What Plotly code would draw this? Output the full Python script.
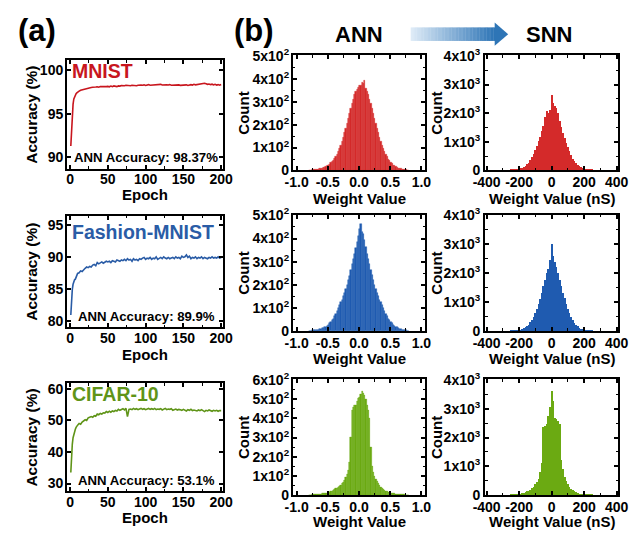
import plotly.graph_objects as go

W, H = 635, 541
FONT = "Liberation Sans, Arial, sans-serif"

# ---------------- data ----------------
epochs = list(range(1, 11)) + list(range(12, 201, 2))

acc_mnist = [
    91.3, 93.6, 95.2, 96.1, 96.7, 96.95, 97.15, 97.3, 97.4, 97.5,
    97.6, 97.7, 97.75, 97.85, 97.9, 97.95, 97.92, 98.0, 98.02, 98.05,
    98.03, 98.08, 98.1, 98.05, 98.12, 98.1, 98.15, 98.08, 98.12, 98.15,
    98.1, 98.18, 98.12, 98.2, 98.15, 98.12, 98.2, 98.18, 98.25, 98.2,
    98.22, 98.28, 98.25, 98.3, 98.22, 98.28, 98.25, 98.3, 98.22, 98.28,
    98.25, 98.3, 98.28, 98.32, 98.25, 98.3, 98.35, 98.28, 98.3, 98.32,
    98.28, 98.35, 98.3, 98.32, 98.38, 98.3, 98.33, 98.28, 98.32, 98.3,
    98.35, 98.28, 98.3, 98.25, 98.3, 98.28, 98.32, 98.27, 98.3, 98.25,
    98.28, 98.32, 98.25, 98.3, 98.35, 98.3, 98.38, 98.32, 98.35, 98.4,
    98.38, 98.45, 98.42, 98.5, 98.45, 98.38, 98.42, 98.35, 98.4, 98.32,
    98.38, 98.3, 98.35, 98.28, 98.37,
]
acc_fmnist = [
    81.0, 83.8, 85.0, 85.8, 86.3, 86.5, 86.6, 87.0, 87.2, 87.5,
    87.6, 87.9, 87.8, 88.1, 88.3, 88.5, 88.4, 88.6, 88.5, 88.8,
    88.9, 88.7, 89.2, 89.0, 89.1, 89.3, 89.1, 89.2, 89.4, 89.3,
    89.4, 89.2, 89.5, 89.4, 89.3, 89.6, 89.5, 89.4, 89.6, 89.5,
    89.7, 89.5, 89.8, 89.6, 89.7, 89.4, 89.8, 89.6, 89.7, 89.5,
    89.8, 89.7, 89.9, 90.0, 89.7, 89.9, 89.8, 90.0, 89.7, 89.9,
    89.8, 90.1, 89.7, 89.9, 90.0, 89.8, 90.1, 89.9, 89.8, 90.0,
    89.8, 89.9, 90.0, 89.8, 90.1, 89.9, 90.0, 89.8, 90.2, 90.0,
    90.1, 90.4, 90.0, 90.2, 89.8, 90.0, 89.9, 90.1, 89.8, 90.0,
    89.9, 90.1, 89.8, 90.0, 89.9, 89.8, 90.0, 89.9, 90.1, 89.9,
    90.0, 89.9, 90.1, 89.9, 90.0,
]
acc_cifar = [
    33.5, 39.0, 42.5, 44.5, 45.8, 46.5, 47.2, 47.8, 48.3, 48.5,
    49.0, 48.8, 49.5, 49.8, 50.2, 50.0, 50.8, 51.0, 51.2, 51.0,
    51.5, 51.3, 52.0, 51.8, 52.2, 52.0, 52.4, 52.3, 52.8, 52.5,
    52.9, 52.6, 53.0, 52.8, 53.2, 53.0, 53.5, 53.2, 53.4, 53.7,
    53.3, 53.8, 51.2, 53.5, 53.6, 53.4, 53.8, 53.5, 53.7, 53.4,
    53.6, 53.8, 53.5, 53.7, 53.4, 53.6, 53.8, 53.5, 53.7, 53.5,
    53.8, 53.4, 53.6, 53.5, 53.7, 53.3, 53.6, 53.8, 53.4, 53.6,
    53.5, 53.7, 53.2, 53.5, 53.6, 53.3, 53.5, 53.4, 53.2, 53.5,
    53.3, 53.0, 53.4, 53.2, 53.5, 53.1, 53.3, 53.2, 53.0, 53.3,
    53.1, 53.4, 53.0, 52.8, 53.2, 53.0, 53.3, 53.1, 52.9, 53.2,
    53.0, 53.2, 52.9, 53.1, 53.1,
]

ann_bins = [round(-0.79 + 0.02 * i, 2) for i in range(80)]
ann_mnist = [
    2, 2, 3, 3, 4, 4, 5, 6, 7, 8,
    10, 12, 14, 17, 20, 24, 28, 33, 38, 45,
    52, 60, 70, 82, 95, 110, 128, 145, 165, 185,
    207, 228, 250, 272, 294, 312, 330, 345, 355, 362,
    370, 372, 385, 378, 392, 360, 345, 330, 310, 292,
    270, 248, 228, 205, 185, 165, 145, 128, 110, 95,
    82, 70, 60, 50, 42, 35, 29, 24, 20, 16,
    13, 10, 8, 7, 5, 4, 3, 3, 2, 2,
]
ann_fmnist = [
    2, 2, 3, 3, 4, 4, 5, 6, 7, 9,
    11, 13, 16, 19, 22, 27, 33, 39, 46, 54,
    64, 75, 87, 100, 112, 124, 135, 150, 165, 180,
    200, 222, 240, 265, 290, 310, 335, 360, 385, 410,
    440, 465, 430, 420, 395, 365, 335, 312, 290, 265,
    242, 222, 200, 182, 165, 150, 135, 124, 112, 100,
    87, 75, 64, 54, 46, 39, 33, 27, 22, 19,
    16, 13, 10, 8, 6, 5, 4, 3, 2, 2,
]
ann_cifar = [
    2, 2, 3, 3, 4, 4, 5, 6, 7, 7,
    8, 9, 10, 12, 13, 15, 17, 20, 23, 26,
    30, 34, 38, 43, 48, 54, 61, 70, 80, 92,
    108, 130, 170, 300, 440, 455, 465, 470, 490, 505,
    510, 525, 540, 530, 520, 500, 470, 440, 400, 250,
    150, 120, 100, 85, 72, 61, 52, 44, 38, 32,
    27, 23, 20, 17, 15, 13, 11, 10, 8, 7,
    6, 5, 5, 4, 4, 3, 3, 2, 2, 2,
]

snn_bins = list(range(-250, 251, 10))
snn_mnist = [
    6, 9, 14, 20, 28, 40, 55, 75, 105, 145,
    195, 260, 340, 440, 560, 700, 850, 1000, 1150, 1350,
    1550, 1850, 2050, 2000, 2100, 2620, 2350, 2250, 2150, 2000,
    1700, 1500, 1300, 1120, 950, 800, 650, 520, 400, 310,
    230, 170, 125, 90, 65, 45, 32, 22, 15, 10,
    7,
]
snn_fmnist = [
    5, 8, 12, 18, 26, 36, 50, 68, 92, 125,
    170, 225, 295, 380, 480, 610, 760, 930, 1120, 1330,
    1550, 1780, 2000, 2150, 2450, 3000, 2600, 2400, 2200, 2000,
    1780, 1550, 1330, 1130, 940, 770, 620, 490, 380, 290,
    215, 160, 118, 85, 62, 45, 32, 22, 15, 10,
    7,
]
snn_cifar = [
    3, 5, 8, 12, 18, 30, 45, 60, 80, 100,
    125, 155, 190, 235, 290, 380, 450, 560, 800, 1100,
    2350, 2400, 2450, 2750, 3050, 3600, 3250, 2650, 2620, 2550,
    2450, 1200, 900, 620, 470, 370, 290, 220, 165, 125,
    95, 70, 52, 38, 28, 20, 14, 10, 7, 5,
    3,
]

datasets = ["MNIST", "Fashion-MNIST", "CIFAR-10"]
ann_acc_text = ["ANN Accuracy: 98.37%", "ANN Accuracy: 89.9%", "ANN Accuracy: 53.1%"]
acc_ticks = [[90, 95, 100], [80, 85, 90, 95], [30, 40, 50, 60]]
ann_yticks = [[0, 100, 200, 300, 400, 500], [0, 100, 200, 300, 400, 500],
              [0, 100, 200, 300, 400, 500, 600]]
snn_yticks = [0, 1000, 2000, 3000, 4000]
ann_xticks = [-1.0, -0.5, 0.0, 0.5, 1.0]
ann_xtext = ["-1.0", "-0.5", "0.0", "0.5", "1.0"]
snn_xticks = [-400, -200, 0, 200, 400]
snn_xtext = ["-400", "-200", "0", "200", "400"]
epoch_ticks = [0, 50, 100, 150, 200]

line_colors = ["#C8161E", "#2A5CA6", "#5F9418"]
hist_colors = ["#D42A2A", "#1F5BB0", "#6BAA12"]

# ---------------- layout geometry (pixels) ----------------
A_X = (57, 219)
A_Y = [(52, 164), (213, 328), (386, 498)]
H1_X = (291, 428)
H2_X = (490, 628)
H_Y = [(47, 166), (212, 332), (382, 502)]
acc_ranges = [(88.7, 101.15), (79.1, 96.5), (27.5, 61.8)]

TICK = 14


def px(x):
    return x / W


def py(y):
    return 1 - y / H


def base_axis(**kw):
    d = dict(showline=True, linecolor="black", linewidth=2, mirror="ticks",
             ticks="inside", ticklen=4, tickwidth=1.5, tickcolor="black",
             showgrid=False, zeroline=False, fixedrange=True,
             tickfont=dict(family=FONT, size=TICK, color="black", weight="bold"))
    d.update(kw)
    return d


def minor(dt):
    return dict(ticks="inside", ticklen=2.5, tickwidth=1.2, tickcolor="black",
                dtick=dt, tick0=0, showgrid=False)


fig = go.Figure()
layout = {}
annotations = []


def ann(text, x, y, size, color="black", angle=0, xanchor="center"):
    annotations.append(dict(text=text, x=px(x), y=py(y), xref="paper", yref="paper",
                            showarrow=False, textangle=angle, xanchor=xanchor,
                            yanchor="middle",
                            font=dict(family=FONT, size=size, color=color, weight="bold")))


acc_series = [acc_mnist, acc_fmnist, acc_cifar]
ann_series = [ann_mnist, ann_fmnist, ann_cifar]
snn_series = [snn_mnist, snn_fmnist, snn_cifar]

for r in range(3):
    # accuracy panel
    i = r + 1
    xs = "" if i == 1 else str(i)
    fig.add_trace(go.Scatter(x=epochs, y=acc_series[r], mode="lines",
                             line=dict(color=line_colors[r], width=1.6),
                             xaxis="x" + xs, yaxis="y" + xs, showlegend=False))
    layout["xaxis" + xs] = base_axis(domain=[px(A_X[0]), px(A_X[1])], range=[-4, 203],
                                     anchor="y" + xs, tickmode="array", tickvals=epoch_ticks,
                                     ticktext=[str(t) for t in epoch_ticks], minor=minor(25),
                                     ticklabelstandoff=-3)
    layout["yaxis" + xs] = base_axis(domain=[py(A_Y[r][1]), py(A_Y[r][0])],
                                     range=list(acc_ranges[r]), anchor="x" + xs,
                                     tickmode="array", tickvals=acc_ticks[r],
                                     ticktext=[str(t) for t in acc_ticks[r]],
                                     ticklabelstandoff=-1)

    # ANN histogram
    j = r + 4
    js = str(j)
    fig.add_trace(go.Bar(x=ann_bins, y=ann_series[r], width=0.02,
                         marker=dict(color=hist_colors[r], line=dict(width=0.4, color=hist_colors[r])),
                         xaxis="x" + js, yaxis="y" + js, showlegend=False))
    top = ann_yticks[r][-1]
    layout["xaxis" + js] = base_axis(domain=[px(H1_X[0]), px(H1_X[1])], range=[-1.06, 1.06],
                                     anchor="y" + js, tickmode="array", tickvals=ann_xticks,
                                     ticktext=ann_xtext, minor=minor(0.25),
                                     ticklabelstandoff=-2)
    layout["yaxis" + js] = base_axis(domain=[py(H_Y[r][1]), py(H_Y[r][0])],
                                     range=[0, top * 1.004], anchor="x" + js,
                                     tickmode="array", tickvals=ann_yticks[r],
                                     ticktext=["0"] + ["%dx10<sup>2</sup>" % (v // 100) for v in ann_yticks[r][1:]],
                                     minor=minor(50), ticklabelstandoff=-1)

    # SNN histogram
    k = r + 7
    ks = str(k)
    fig.add_trace(go.Bar(x=snn_bins, y=snn_series[r], width=7,
                         marker=dict(color=hist_colors[r], line=dict(width=0)),
                         xaxis="x" + ks, yaxis="y" + ks, showlegend=False))
    layout["xaxis" + ks] = base_axis(domain=[px(H2_X[0]), px(H2_X[1])], range=[-410, 410],
                                     anchor="y" + ks, tickmode="array", tickvals=snn_xticks,
                                     ticktext=snn_xtext, minor=minor(100),
                                     ticklabelstandoff=-2)
    layout["yaxis" + ks] = base_axis(domain=[py(H_Y[r][1]), py(H_Y[r][0])],
                                     range=[0, 4016], anchor="x" + ks,
                                     tickmode="array", tickvals=snn_yticks,
                                     ticktext=["0"] + ["%dx10<sup>3</sup>" % (v // 1000) for v in snn_yticks[1:]],
                                     minor=minor(500), ticklabelstandoff=0)

# ---------------- text ----------------
ann("(a)", 26, 21, 31)
ann("(b)", 251, 21, 31)
ann("ANN", 359, 25, 22)
ann("SNN", 556, 25, 22)

name_y = [63, 230, 397]
acc_text_y = [153, 317, 487]
epoch_y = [191, 356, 525]
wv_y = [195, 360, 529]
for r in range(3):
    ann(datasets[r], 60, name_y[r], 19.5, color=line_colors[r], xanchor="left")
    ann(ann_acc_text[r], 139, acc_text_y[r], 13.2)
    ann("Accuracy (%)", 20, (A_Y[r][0] + A_Y[r][1]) / 2, 15.5, angle=-90)
    ann("Epoch", 138, epoch_y[r], 15)
    hc = (H_Y[r][0] + H_Y[r][1]) / 2
    ann("Count", 240, hc, 15, angle=-90)
    ann("Count", 440, hc, 15, angle=-90)
    ann("Weight Value", 359.5, wv_y[r], 15)
    ann("Weight Value (nS)", 559, wv_y[r], 15)

# ---------------- gradient arrow ----------------
shapes = []
c0 = (222, 235, 247)
c1 = (46, 117, 182)
x_start, x_end = 413, 500
n = 60
step = (x_end - x_start) / n
for s in range(n):
    t = s / (n - 1)
    col = "rgb(%d,%d,%d)" % tuple(round(c0[q] + (c1[q] - c0[q]) * t) for q in range(3))
    shapes.append(dict(type="rect", xref="paper", yref="paper",
                       x0=px(x_start + s * step), x1=px(x_start + (s + 1) * step + 0.4),
                       y0=py(32), y1=py(18), fillcolor=col, line=dict(width=0)))
shapes.append(dict(type="path", xref="paper", yref="paper",
                   path="M %f %f L %f %f L %f %f Z" % (px(500), py(13), px(514), py(25), px(500), py(37)),
                   fillcolor="rgb(%d,%d,%d)" % c1, line=dict(width=0)))

fig.update_layout(**layout)
fig.update_layout(width=W, height=H, margin=dict(l=0, r=0, t=0, b=0),
                  paper_bgcolor="white", plot_bgcolor="white",
                  annotations=annotations, shapes=shapes, bargap=0,
                  font=dict(family=FONT, color="black"))

fig.write_html("out.html")
